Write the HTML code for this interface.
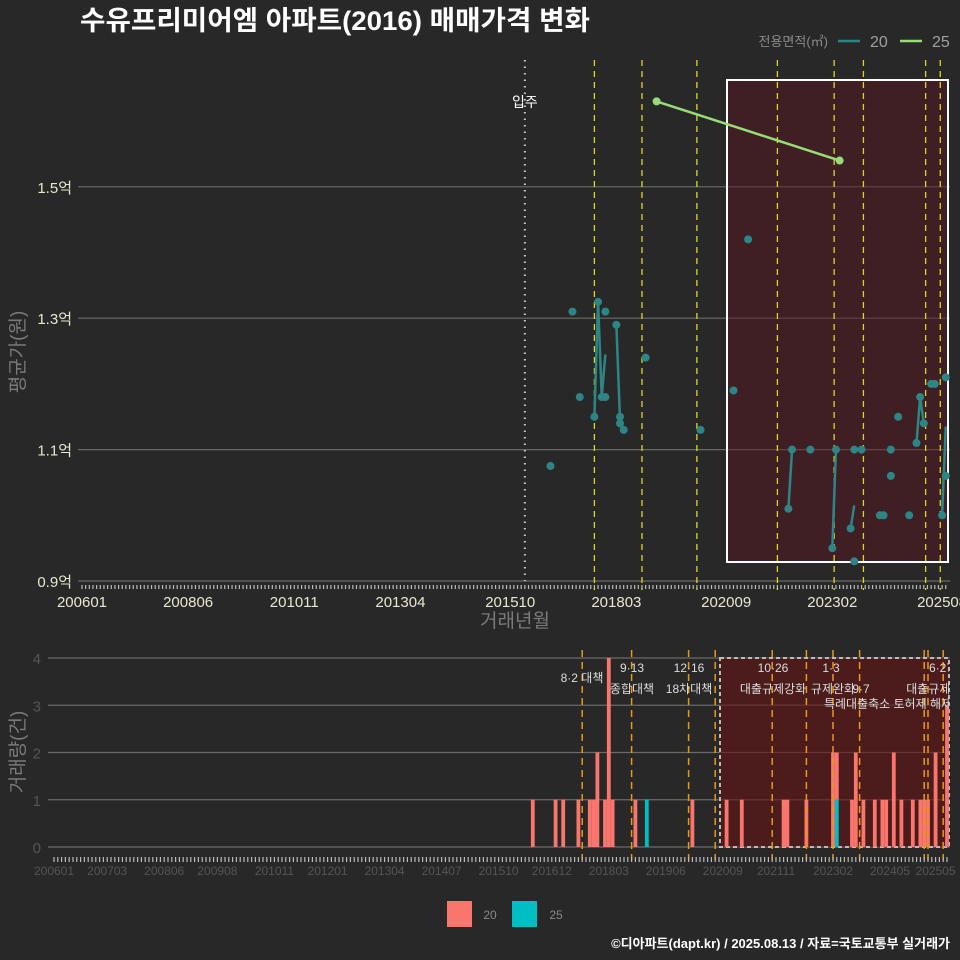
<!DOCTYPE html>
<html><head><meta charset="utf-8">
<style>
html,body{margin:0;padding:0;background:#282828;}
svg{display:block;font-family:"Liberation Sans","Noto Sans CJK KR",sans-serif;}
</style></head>
<body>
<svg id="chart" width="960" height="960" viewBox="0 0 960 960">
<rect x="0" y="0" width="960" height="960" fill="#282828"/>
<text x="80" y="30" fill="#ffffff" font-size="27" font-weight="bold" textLength="510" lengthAdjust="spacingAndGlyphs">수유프리미어엠 아파트(2016) 매매가격 변화</text>
<g id="topPanel"></g>
<g id="botPanel"></g>
<text x="950" y="948" text-anchor="end" fill="#ffffff" font-size="13" font-weight="bold">©디아파트(dapt.kr) / 2025.08.13 / 자료=국토교통부 실거래가</text>
</svg>
<script>
// ---- data (month index from 2006-01 = 0) ----
const priceMonths20 = [128,134,136,140,141,142,143,143,146,147,147,148,154,169,178,182,193,194,199,205,206,210,211,211,213,218,219,221,221,223,226,228,229,230,232,233,235,236,236];
const priceValues20 = [1.075,1.31,1.18,1.15,1.325,1.18,1.31,1.18,1.29,1.15,1.14,1.13,1.24,1.13,1.19,1.42,1.01,1.10,1.10,0.95,1.10,0.98,0.93,1.10,1.10,1.00,1.00,1.06,1.10,1.15,1.00,1.11,1.18,1.14,1.20,1.20,1.00,1.21,1.06];
const priceMonths25 = [157,207];
const priceValues25 = [1.63,1.54];
const yTicksTop = [0.9,1.1,1.3,1.5];
const yTickLabelsTop = ["0.9억","1.1억","1.3억","1.5억"];
const xTickMonthsTop = [0,29,58,87,117,146,176,205,235];
const xTickLabelsTop = ["200601","200806","201011","201304","201510","201803","202009","202302","202508"];
const volMonths = [126,132,134,138,141,142,143,145,146,147,153,156,168,177,181,192,193,198,205,206,210,211,213,216,218,219,221,223,226,228,229,230,232,235];
const volCount20 = [1,1,1,1,1,1,2,1,4,1,1,0,1,1,1,1,1,1,2,1,1,2,1,1,1,1,2,1,1,1,1,1,2,3];
const volCount25 = [0,0,0,0,0,0,0,0,0,0,0,1,0,0,0,0,0,0,0,1,0,0,0,0,0,0,0,0,0,0,0,0,0,0];
const yTicksBot = [0,1,2,3,4];
const xTickMonthsBot = [0,14,29,43,58,72,87,102,117,131,146,161,176,190,205,220,232];
const xTickLabelsBot = ["200601","200703","200806","200908","201011","201201","201304","201407","201510","201612","201803","201906","202009","202111","202302","202405","202505"];
const policyMonthsTop = [140,153,168,190,205.5,213.5,230.5,234.5];
const policyMonthsBot = [139,152,167,174,189,198,205,212,229,230,234];
const moveInMonth = 121;
const notes = [["8·2 대책",582,682],["9·13",632,672],["종합대책",632,693],["12·16",689,672],["18차대책",689,693],["10·26",773,672],["대출규제강화",773,693],["1·3",831,672],["규제완화",833,693],["9·7",861,693],["특례대출축소 토허제 해제",888,708],["6·27",941,672],["대출규제 강화",941,693]];

const NS="http://www.w3.org/2000/svg";
function mk(parent,tag,attrs){const e=document.createElementNS(NS,tag);for(const k in attrs)e.setAttribute(k,attrs[k]);parent.appendChild(e);return e;}
const xT = m => 82 + m*3.66;
const yT = v => 581 - (v-0.9)*657;
const xB = m => 54 + m*3.8;
const yB = c => 847 - c*47.25;

const topG = document.getElementById('topPanel');
const botG = document.getElementById('botPanel');

// ---- top panel ----
yTicksTop.forEach((v,i)=>{
  const g=mk(topG,'line',{x1:78,x2:950,y1:yT(v),y2:yT(v),stroke:'#6a6a6a','stroke-width':1.2});
  
  
  const t=mk(topG,'text',{x:72,y:yT(v)+6,'text-anchor':'end',fill:'#e8e8d0','font-size':15});
  t.textContent=yTickLabelsTop[i];
  
  
});
for(let m=0;m<=236;m++){
  const l=mk(topG,'line',{x1:xT(m),x2:xT(m),y1:585,y2:589,stroke:'#bbbbbb','stroke-width':1.2});
  
  
}
xTickMonthsTop.forEach((m,i)=>{
  const t=mk(topG,'text',{x:xT(m),y:607,'text-anchor':'middle',fill:'#e8e8d0','font-size':15});
  t.textContent=xTickLabelsTop[i];
  
  
});
let r=mk(topG,'rect',{x:727,y:80,width:221,height:482,fill:'rgba(90,20,30,0.45)',stroke:'#ffffff','stroke-width':2});


let mv=mk(topG,'line',{x1:xT(moveInMonth),x2:xT(moveInMonth),y1:60,y2:581,stroke:'#cccccc','stroke-width':2,'stroke-dasharray':'1.5 5'});


let mt=mk(topG,'text',{x:xT(moveInMonth),y:107,'text-anchor':'middle',fill:'#ffffff','font-size':14});
mt.textContent='입주';


policyMonthsTop.forEach(m=>{
  const l=mk(topG,'line',{x1:xT(m),x2:xT(m),y1:60,y2:590,stroke:'#d8d820','stroke-width':1.3,'stroke-dasharray':'6 5'});
  
  
});
const avg={};priceMonths20.forEach((m,i)=>{(avg[m]=avg[m]||[]).push(priceValues20[i]);});
const ms=Object.keys(avg).map(Number).sort((a,b)=>a-b);
for(let i=1;i<ms.length;i++){
  if(ms[i]-ms[i-1]===1){
    const a=avg[ms[i-1]].reduce((s,v)=>s+v,0)/avg[ms[i-1]].length;
    const b=avg[ms[i]].reduce((s,v)=>s+v,0)/avg[ms[i]].length;
    const l=mk(topG,'line',{x1:xT(ms[i-1]),y1:yT(a),x2:xT(ms[i]),y2:yT(b),stroke:'#2e8585','stroke-width':2.5});
    
    
  }
}
priceMonths20.forEach((m,i)=>{
  const c=mk(topG,'circle',{cx:xT(m),cy:yT(priceValues20[i]),r:4,fill:'#2e8585'});
  
  
});
const p25=priceMonths25.map((m,i)=>xT(m)+','+yT(priceValues25[i])).join(' ');
let pl=mk(topG,'polyline',{points:p25,fill:'none',stroke:'#98dc78','stroke-width':2.5});


priceMonths25.forEach((m,i)=>{
  const c=mk(topG,'circle',{cx:xT(m),cy:yT(priceValues25[i]),r:4,fill:'#98dc78'});
  
  
});
let yt=mk(topG,'text',{x:24,y:352,'text-anchor':'middle',fill:'#7a7a7a','font-size':19,transform:'rotate(-90 24 352)'});
yt.textContent='평균가(원)';


let xt=mk(topG,'text',{x:515,y:627,'text-anchor':'middle',fill:'#7a7a7a','font-size':19});
xt.textContent='거래년월';


let lg=mk(topG,'g',{});


let lt=mk(lg,'text',{x:828,y:46,'text-anchor':'end',fill:'#8a8a8a','font-size':13});
lt.textContent='전용면적(㎡)';


[[838,'#2e8585','20'],[900,'#98dc78','25']].forEach(d=>{
  const l=mk(lg,'line',{x1:d[0],x2:d[0]+22,y1:41,y2:41,stroke:d[1],'stroke-width':2.5});
  
  
  const t=mk(lg,'text',{x:d[0]+32,y:47,fill:'#a0a0a0','font-size':16});
  t.textContent=d[2];
  
  
});

// ---- bottom panel ----
yTicksBot.forEach(c=>{
  const g=mk(botG,'line',{x1:48,x2:950,y1:yB(c),y2:yB(c),stroke:'#6a6a6a','stroke-width':1.2});
  
  
  const t=mk(botG,'text',{x:41,y:yB(c)+6,'text-anchor':'end',fill:'#555555','font-size':15});
  t.textContent=String(c);
  
  
});
let r2=mk(botG,'rect',{x:720,y:658,width:229,height:189,fill:'rgba(100,20,20,0.6)',stroke:'#bbbbbb','stroke-width':2,'stroke-dasharray':'4 3'});


volMonths.forEach((m,i)=>{
  const x=xB(m)-1.9;
  if(volCount25[i]>0){
    const b=mk(botG,'rect',{x:x,y:yB(volCount25[i]),width:3.8,height:yB(0)-yB(volCount25[i]),fill:'#00BFC4'});
    
    
  }
  if(volCount20[i]>0){
    const b=mk(botG,'rect',{x:x,y:yB(volCount20[i]+volCount25[i]),width:3.8,height:yB(volCount25[i])-yB(volCount20[i]+volCount25[i]),fill:'#F8766D'});
    
    
  }
});
policyMonthsBot.forEach(m=>{
  const l=mk(botG,'line',{x1:xB(m),x2:xB(m),y1:650,y2:860,stroke:'#e89a10','stroke-width':1.5,'stroke-dasharray':'7 5'});
  
  
});
for(let m=0;m<=235;m++){
  const l=mk(botG,'line',{x1:xB(m),x2:xB(m),y1:857,y2:862,stroke:'#bbbbbb','stroke-width':1.2});
  
  
}
xTickMonthsBot.forEach((m,i)=>{
  const t=mk(botG,'text',{x:xB(m),y:875,'text-anchor':'middle',fill:'#555555','font-size':12});
  t.textContent=xTickLabelsBot[i];
  
  
});
let cp=mk(botG,'clipPath',{id:'clipB'});mk(cp,'rect',{x:40,y:640,width:909,height:220});
let ng=mk(botG,'g',{'clip-path':'url(#clipB)'});


notes.forEach(n=>{
  const t=mk(ng,'text',{x:n[1],y:n[2],'text-anchor':'middle',fill:'#dddddd','font-size':12});
  t.textContent=n[0];
  
  
});
let yt2=mk(botG,'text',{x:24,y:752,'text-anchor':'middle',fill:'#7a7a7a','font-size':19,transform:'rotate(-90 24 752)'});
yt2.textContent='거래량(건)';


[[447,'#F8766D','20',490],[512,'#00BFC4','25',556]].forEach(d=>{
  const s=mk(botG,'rect',{x:d[0],y:901,width:25,height:26,fill:d[1]});
  
  
  const t=mk(botG,'text',{x:d[3],y:919,'text-anchor':'middle',fill:'#888888','font-size':12});
  t.textContent=d[2];
  
  
});
</script>
</body></html>
